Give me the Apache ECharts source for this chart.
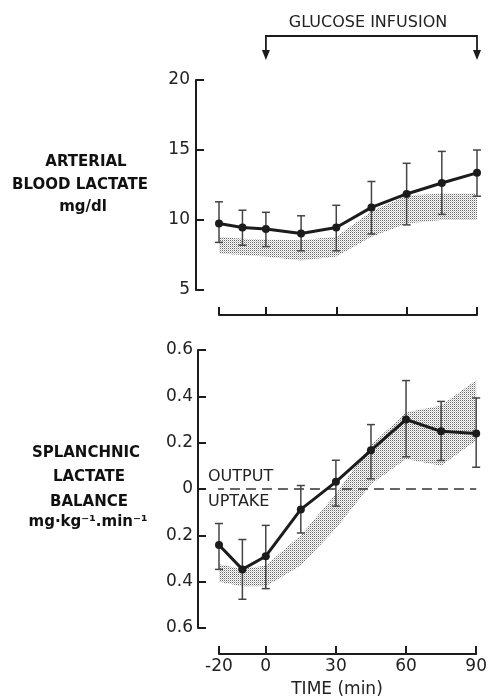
<!DOCTYPE html>
<html>
<head>
<meta charset="utf-8">
<script src="https://cdn.jsdelivr.net/npm/echarts@6/dist/echarts.min.js"></script>
<style>
html, body { margin: 0; padding: 0; background: #fff; }
#chart { width: 490px; height: 698px; }
</style>
</head>
<body>
<div id="chart"></div>
<script>
// sampling times (min)
var times = [-20, -10, 0, 15, 30, 45, 60, 75, 90];
var xTicks = [-20, 0, 30, 60, 90];

// arterial blood lactate, mg/dl
var lactMean = [9.75, 9.46, 9.36, 9.04, 9.46, 10.9, 11.86, 12.64, 13.37];
var lactHigh = [11.3, 10.7, 10.55, 10.3, 11.05, 12.75, 14.05, 14.9, 15.0];
var lactLow = [8.4, 8.2, 8.1, 7.8, 7.8, 9.0, 9.65, 10.4, 11.7];
var lactBandHigh = [8.8, 8.66, 8.6, 8.55, 8.8, 10.6, 11.75, 11.9, 11.9];
var lactBandLow = [7.6, 7.5, 7.4, 7.1, 7.4, 8.8, 9.75, 10.0, 10.0];

// splanchnic lactate balance, mg/kg/min (output > 0, uptake < 0)
var balMean = [-0.242, -0.347, -0.29, -0.088, 0.031, 0.167, 0.30, 0.249, 0.24];
var balHigh = [-0.149, -0.218, -0.157, 0.015, 0.124, 0.278, 0.468, 0.378, 0.393];
var balLow = [-0.347, -0.476, -0.43, -0.19, -0.074, 0.044, 0.139, 0.123, 0.094];
var balBandHigh = [-0.325, -0.345, -0.33, -0.2, -0.02, 0.19, 0.33, 0.36, 0.47];
var balBandLow = [-0.40, -0.42, -0.42, -0.33, -0.17, 0.02, 0.13, 0.10, 0.21];

var myChart = echarts.init(document.getElementById('chart'));

// stipple pattern for the shaded bands
var pat = document.createElement('canvas');
pat.width = 2; pat.height = 2;
var pctx = pat.getContext('2d');
pctx.fillStyle = '#6a6a6a';
pctx.fillRect(0, 0, 1, 1);
pctx.fillStyle = '#c8c8c8';
pctx.fillRect(1, 1, 1, 1);
var stipple = { image: pat, repeat: 'repeat' };

var font = 'DejaVu Sans';
var ink = '#1c1c1c';

function pairs(ys) {
    return times.map(function (t, i) { return [t, ys[i]]; });
}
function triples(lo, hi) {
    return times.map(function (t, i) { return [t, lo[i], hi[i]]; });
}

function bandSeries(idx, lo, hi) {
    return {
        type: 'custom',
        xAxisIndex: idx, yAxisIndex: idx,
        data: triples(lo, hi),
        encode: { x: 0, y: [1, 2] },
        silent: true,
        z: 1,
        renderItem: function (params, api) {
            if (params.dataIndex !== 0) return;
            var pts = [];
            for (var i = 0; i < times.length; i++) pts.push(api.coord([times[i], hi[i]]));
            for (var j = times.length - 1; j >= 0; j--) pts.push(api.coord([times[j], lo[j]]));
            return { type: 'polygon', shape: { points: pts }, style: { fill: stipple, stroke: null } };
        }
    };
}

function errSeries(idx, lo, hi) {
    return {
        type: 'custom',
        xAxisIndex: idx, yAxisIndex: idx,
        data: triples(lo, hi),
        encode: { x: 0, y: [1, 2] },
        silent: true,
        z: 3,
        renderItem: function (params, api) {
            var a = api.coord([api.value(0), api.value(1)]);
            var b = api.coord([api.value(0), api.value(2)]);
            var st = { stroke: '#444', lineWidth: 1.5 };
            return {
                type: 'group',
                children: [
                    { type: 'line', shape: { x1: a[0], y1: a[1], x2: b[0], y2: b[1] }, style: st },
                    { type: 'line', shape: { x1: a[0] - 4, y1: a[1], x2: a[0] + 4, y2: a[1] }, style: st },
                    { type: 'line', shape: { x1: b[0] - 4, y1: b[1], x2: b[0] + 4, y2: b[1] }, style: st }
                ]
            };
        }
    };
}

function meanSeries(idx, ys) {
    return {
        type: 'line',
        xAxisIndex: idx, yAxisIndex: idx,
        data: pairs(ys),
        symbol: 'circle', symbolSize: 8,
        lineStyle: { color: ink, width: 3 },
        itemStyle: { color: ink },
        silent: true,
        z: 5
    };
}

var axisLine = { show: true, onZero: false, lineStyle: { color: ink, width: 2 } };
var axisTick = { show: true, inside: true, length: 8, lineStyle: { color: ink, width: 2 } };
var tickLabel = { color: '#222', fontSize: 17, fontFamily: font };

var option = {
    animation: false,
    backgroundColor: '#fff',
    grid: [
        { left: 219, right: 13, top: 80, height: 210 },
        { left: 219, right: 13, top: 350, height: 278 }
    ],
    xAxis: [
        {
            type: 'value', gridIndex: 0, min: -20, max: 90, offset: 25,
            axisLine: axisLine,
            axisTick: Object.assign({ customValues: xTicks }, axisTick),
            axisLabel: { show: false },
            splitLine: { show: false }
        },
        {
            type: 'value', gridIndex: 1, min: -20, max: 90, offset: 26,
            axisLine: axisLine,
            axisTick: Object.assign({ customValues: xTicks }, axisTick),
            axisLabel: Object.assign({ customValues: xTicks, margin: 4 }, tickLabel),
            splitLine: { show: false }
        }
    ],
    yAxis: [
        {
            type: 'value', gridIndex: 0, min: 5, max: 20, interval: 5, offset: 23,
            axisLine: axisLine, axisTick: axisTick,
            axisLabel: Object.assign({ margin: 6 }, tickLabel),
            splitLine: { show: false }
        },
        {
            type: 'value', gridIndex: 1, min: -0.6, max: 0.6, interval: 0.2, offset: 21,
            axisLine: axisLine, axisTick: axisTick,
            axisLabel: Object.assign({
                margin: 5,
                formatter: function (v) {
                    var a = Math.abs(v);
                    return a < 1e-9 ? '0' : a.toFixed(1);
                }
            }, tickLabel),
            splitLine: { show: false }
        }
    ],
    series: [
        bandSeries(0, lactBandLow, lactBandHigh),
        errSeries(0, lactLow, lactHigh),
        meanSeries(0, lactMean),
        bandSeries(1, balBandLow, balBandHigh),
        errSeries(1, balLow, balHigh),
        meanSeries(1, balMean),
        {
            // output / uptake divider, runs back to the y axis
            type: 'line', xAxisIndex: 1, yAxisIndex: 1,
            data: [[-29, 0], [90, 0]],
            clip: false, symbol: 'none', silent: true, z: 2,
            lineStyle: { color: '#333', width: 1.5, type: [10, 6] }
        }
    ]
};
myChart.setOption(option);

// infusion bracket and labels
var x0 = myChart.convertToPixel({ xAxisIndex: 0 }, 0);
var x90 = myChart.convertToPixel({ xAxisIndex: 0 }, 90);
var lineSt = { stroke: ink, lineWidth: 1.8 };
var leftTxt = { fill: '#111', fontSize: 15, fontWeight: 'bold', fontFamily: font, align: 'center', verticalAlign: 'middle' };

function txt(x, y, s, st) {
    return { type: 'text', x: x, y: y, style: Object.assign({ text: s }, st) };
}

myChart.setOption({
    graphic: [
        txt(368, 23, 'GLUCOSE INFUSION', { fill: '#222', fontSize: 16, fontFamily: font, align: 'center', verticalAlign: 'middle' }),
        { type: 'polyline', shape: { points: [[x0, 52], [x0, 36], [x90, 36], [x90, 52]] }, style: Object.assign({ fill: null }, lineSt) },
        { type: 'polygon', shape: { points: [[x0 - 4, 50], [x0 + 4, 50], [x0, 60]] }, style: { fill: ink } },
        { type: 'polygon', shape: { points: [[x90 - 4, 50], [x90 + 4, 50], [x90, 60]] }, style: { fill: ink } },

        txt(86, 162, 'ARTERIAL', leftTxt),
        txt(80, 185, 'BLOOD LACTATE', leftTxt),
        txt(83, 207, 'mg/dl', leftTxt),

        txt(86, 453, 'SPLANCHNIC', leftTxt),
        txt(89, 477, 'LACTATE', leftTxt),
        txt(89, 502, 'BALANCE', leftTxt),
        txt(88, 522, 'mg·kg⁻¹.min⁻¹', leftTxt),

        txt(208, 477, 'OUTPUT', { fill: '#222', fontSize: 16, fontFamily: font, align: 'left', verticalAlign: 'middle' }),
        txt(208, 502, 'UPTAKE', { fill: '#222', fontSize: 16, fontFamily: font, align: 'left', verticalAlign: 'middle' }),

        txt(337, 690, 'TIME (min)', { fill: '#222', fontSize: 17, fontFamily: font, align: 'center', verticalAlign: 'middle' })
    ]
});
</script>
</body>
</html>
